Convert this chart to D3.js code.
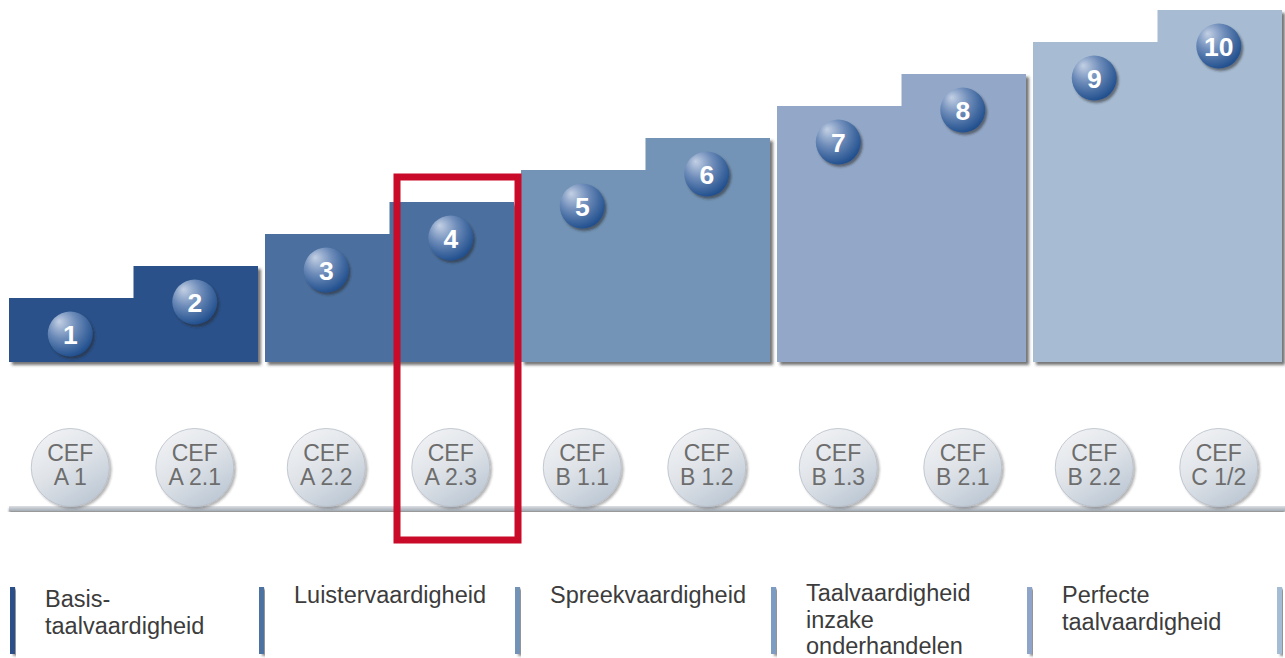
<!DOCTYPE html>
<html>
<head>
<meta charset="utf-8">
<script src="https://cdn.jsdelivr.net/npm/d3@7"></script>
<style>
  html, body { margin: 0; padding: 0; background: #ffffff; }
  svg { display: block; }
</style>
</head>
<body>
<svg id="chart" width="1285" height="658"></svg>
<script>
// ---- data ----
const stepLevels = [1, 2, 3, 4, 5, 6, 7, 8, 9, 10];
const stepGroups = [0, 0, 1, 1, 2, 2, 3, 3, 4, 4];
const cefTop = ["CEF", "CEF", "CEF", "CEF", "CEF", "CEF", "CEF", "CEF", "CEF", "CEF"];
const cefBottom = ["A 1", "A 2.1", "A 2.2", "A 2.3", "B 1.1", "B 1.2", "B 1.3", "B 2.1", "B 2.2", "C 1/2"];
const groupLabels = [
  ["Basis-", "taalvaardigheid"],
  ["Luistervaardigheid"],
  ["Spreekvaardigheid"],
  ["Taalvaardigheid", "inzake", "onderhandelen"],
  ["Perfecte", "taalvaardigheid"]
];
const highlightLevel = 4;

// ---- styles ----
const groupColors = ["#29518a", "#4b709f", "#7394b6", "#93a8c8", "#a7bcd3"];
const legendColors = ["#2b5089", "#4c72a0", "#7393b6", "#7b9dc1", "#8ea5c9", "#a5bcd5"];

const svg = d3.select("#chart");
const defs = svg.append("defs");

function shadow(id, dx, dy, sd, op) {
  const f = defs.append("filter").attr("id", id)
    .attr("x", "-20%").attr("y", "-20%").attr("width", "140%").attr("height", "140%");
  f.append("feDropShadow").attr("dx", dx).attr("dy", dy)
    .attr("stdDeviation", sd).attr("flood-color", "#2a2a2a").attr("flood-opacity", op);
}
shadow("shRect", 3, 3, 1.4, 0.65);
shadow("shCirc", 2, 2.5, 1.3, 0.55);
shadow("shCef", 2, 2, 1.2, 0.35);
shadow("shLine", 0, 2.5, 1.2, 0.5);
shadow("shBar", 3, 2, 1.2, 0.5);

const numGrad = defs.append("radialGradient").attr("id", "numGrad")
  .attr("cx", "40%").attr("cy", "35%").attr("r", "70%").attr("fx", "25%").attr("fy", "22%");
numGrad.append("stop").attr("offset", "0%").attr("stop-color", "#c3d0e4");
numGrad.append("stop").attr("offset", "45%").attr("stop-color", "#6f8dba");
numGrad.append("stop").attr("offset", "100%").attr("stop-color", "#1a4a8a");

const cefGrad = defs.append("linearGradient").attr("id", "cefGrad")
  .attr("x1", "0%").attr("y1", "0%").attr("x2", "60%").attr("y2", "100%");
cefGrad.append("stop").attr("offset", "0%").attr("stop-color", "#f4f5f7");
cefGrad.append("stop").attr("offset", "55%").attr("stop-color", "#dfe3e8");
cefGrad.append("stop").attr("offset", "100%").attr("stop-color", "#bfcad6");

const lineGrad = defs.append("linearGradient").attr("id", "lineGrad")
  .attr("x1", "0").attr("y1", "0").attr("x2", "0").attr("y2", "1");
lineGrad.append("stop").attr("offset", "0%").attr("stop-color", "#dde0e4");
lineGrad.append("stop").attr("offset", "100%").attr("stop-color", "#a3abb5");

// ---- scales ----
const groupIdx = d3.range(groupLabels.length);
const xGroup = d3.scaleBand().domain(groupIdx).range([9, 1282]).paddingInner(7 / 256).paddingOuter(0);
const xHalf = d3.scaleBand().domain([0, 1]).range([0, xGroup.bandwidth()]);
const y = d3.scaleLinear().domain([-1, 10]).range([362, 10]);
const baseY = y(-1);

const stepX = i => xGroup(stepGroups[i]) + xHalf(i % 2);
const stepCx = i => stepX(i) + xHalf.bandwidth() / 2;

// ---- step shapes ----
const line = d3.line();
groupIdx.forEach(g => {
  const idx = stepLevels.map((d, i) => i).filter(i => stepGroups[i] === g);
  const x0 = xGroup(g), x1 = x0 + xGroup.bandwidth();
  const xm = stepX(idx[1]);
  const pts = [
    [x0, baseY], [x0, y(stepLevels[idx[0]])], [xm, y(stepLevels[idx[0]])],
    [xm, y(stepLevels[idx[1]])], [x1, y(stepLevels[idx[1]])], [x1, baseY]
  ];
  svg.append("path").attr("d", line(pts) + "Z")
    .attr("fill", groupColors[g]).attr("filter", "url(#shRect)");
});

// ---- number badges ----
const badges = svg.append("g").selectAll("g").data(stepLevels).join("g")
  .attr("transform", (d, i) => `translate(${stepCx(i) - 1},${y(d) + 36})`);
badges.append("circle").attr("r", 22.5).attr("fill", "url(#numGrad)").attr("filter", "url(#shCirc)");
badges.append("text").text(d => d)
  .attr("text-anchor", "middle").attr("y", 9.5)
  .attr("font-family", "Liberation Sans, Arial, sans-serif")
  .attr("font-weight", "bold").attr("font-size", 26.5).attr("fill", "#ffffff");

// ---- baseline ----
svg.append("rect").attr("x", 9).attr("y", 506).attr("width", 1276).attr("height", 5)
  .attr("fill", "url(#lineGrad)").attr("filter", "url(#shLine)");

// ---- CEF circles ----
const cefCy = 467.5;
const cef = svg.append("g").selectAll("g").data(cefBottom).join("g")
  .attr("transform", (d, i) => `translate(${stepCx(i) - 1},${cefCy})`);
cef.append("circle").attr("r", 39).attr("fill", "url(#cefGrad)")
  .attr("stroke", "#b6bec8").attr("stroke-width", 0.8).attr("filter", "url(#shCef)");
cef.append("text").text((d, i) => cefTop[i])
  .attr("text-anchor", "middle").attr("y", -7)
  .attr("font-family", "Liberation Sans, Arial, sans-serif")
  .attr("font-size", 23).attr("fill", "#6d6d6d");
cef.append("text").text(d => d)
  .attr("text-anchor", "middle").attr("y", 17)
  .attr("font-family", "Liberation Sans, Arial, sans-serif")
  .attr("font-size", 23).attr("fill", "#6d6d6d");

// ---- highlight frame ----
const hi = stepLevels.indexOf(highlightLevel);
svg.append("rect")
  .attr("x", stepX(hi) + 7.5).attr("y", 177)
  .attr("width", 121).attr("height", 363)
  .attr("fill", "none").attr("stroke", "#c90b29").attr("stroke-width", 7);

// ---- legend ----
const barX = d3.range(legendColors.length).map(i =>
  i === 0 ? xGroup(0) + 1 : (i < groupIdx.length ? xGroup(i) - 6 : xGroup(groupIdx.length - 1) + xGroup.bandwidth() - 5));
svg.append("g").selectAll("rect").data(legendColors).join("rect")
  .attr("x", (d, i) => barX[i]).attr("y", 587)
  .attr("width", 5).attr("height", 67)
  .attr("fill", d => d).attr("filter", "url(#shBar)");

const firstBase = [607, 603, 603, 601, 603];
const lbl = svg.append("g").selectAll("text").data(groupLabels).join("text")
  .attr("x", (d, i) => barX[i] + 35)
  .attr("y", (d, i) => firstBase[i])
  .attr("font-family", "Liberation Sans, Arial, sans-serif")
  .attr("font-size", 23.5).attr("fill", "#3c3c3c");
lbl.selectAll("tspan").data(d => d).join("tspan")
  .attr("x", function () { return d3.select(this.parentNode).attr("x"); })
  .attr("dy", (d, j) => j === 0 ? 0 : 26.5)
  .text(d => d);
</script>
</body>
</html>
